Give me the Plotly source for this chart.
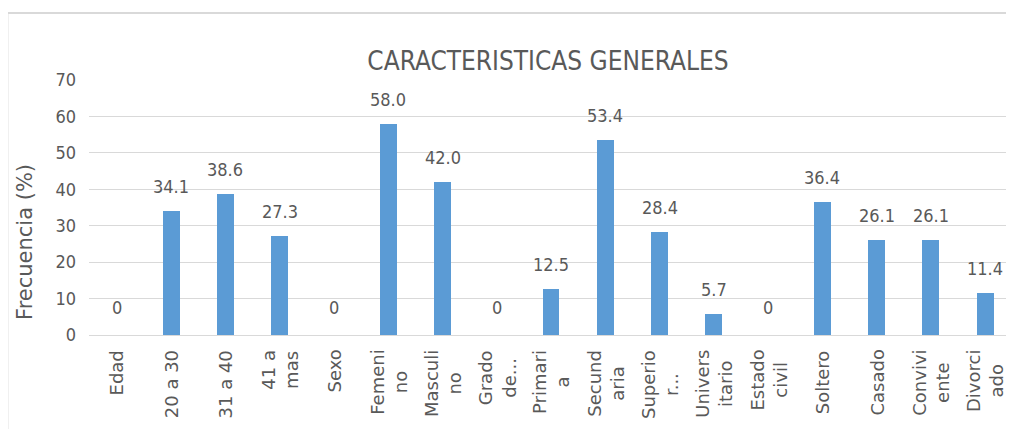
import plotly.graph_objects as go

categorias = [
    "Edad", "20 a 30", "31 a 40", "41 a<br>mas", "Sexo", "Femeni<br>no",
    "Masculi<br>no", "Grado<br>de...", "Primari<br>a", "Secund<br>aria",
    "Superio<br>r...", "Univers<br>itario", "Estado<br>civil", "Soltero",
    "Casado", "Convivi<br>ente", "Divorci<br>ado",
]
frecuencia = [0, 34.1, 38.6, 27.3, 0, 58.0, 42.0, 0, 12.5, 53.4, 28.4, 5.7, 0, 36.4, 26.1, 26.1, 11.4]
etiquetas = ["0", "34.1", "38.6", "27.3", "0", "58.0", "42.0", "0", "12.5", "53.4",
             "28.4", "5.7", "0", "36.4", "26.1", "26.1", "11.4"]
ticks_y = [0, 10, 20, 30, 40, 50, 60, 70]

GRIS = "#595959"
NARROW = "DejaVu Sans Condensed, Liberation Sans Narrow, sans-serif"
SANS = "DejaVu Sans, Open Sans, sans-serif"

x_idx = list(range(len(categorias)))

fig = go.Figure()
fig.add_trace(
    go.Bar(
        x=x_idx,
        y=frecuencia,
        width=0.313,
        marker={"color": "#5b9bd5", "line": {"width": 0}},
        showlegend=False,
        hoverinfo="skip",
    )
)

annotations = []
# etiquetas de datos sobre cada barra
for xi, v, t in zip(x_idx, frecuencia, etiquetas):
    annotations.append(dict(
        x=xi, y=v, xref="x", yref="y", text=t, showarrow=False,
        yanchor="bottom", yshift=12 if v > 0 else 15,
        font={"family": NARROW, "size": 18, "color": GRIS},
    ))
# etiquetas de categoria giradas
for xi, c in zip(x_idx, categorias):
    annotations.append(dict(
        x=xi, y=0, xref="x", yref="paper", text=c, showarrow=False,
        textangle=-90, yanchor="top", align="center", yshift=-13,
        font={"family": SANS, "size": 18, "color": GRIS},
    ))
# titulo del eje y
annotations.append(dict(
    x=0, y=0.365, xref="paper", yref="paper", text="Frecuencia (%)",
    showarrow=False, textangle=-90, xanchor="center", yanchor="middle", xshift=-64,
    font={"family": SANS, "size": 21, "color": GRIS},
))

# la pagina desplaza el grafico 8 px (margen del body): se compensa en los margenes
fig.update_layout(
    width=1014,
    height=429,
    margin={"l": 81, "r": 16, "t": 72, "b": 102},
    paper_bgcolor="white",
    plot_bgcolor="white",
    title={
        "text": "CARACTERISTICAS GENERALES",
        "x": 540 / 1014, "xanchor": "center",
        "y": 1 - 53 / 429, "yanchor": "middle",
        "font": {"family": NARROW, "size": 26, "color": GRIS},
    },
    annotations=annotations,
    shapes=[dict(
        type="rect", xref="paper", yref="paper",
        x0=-0.089, x1=1.2, y0=-0.6, y1=1.263,
        line={"color": "#d9d9d9", "width": 2}, fillcolor="rgba(0,0,0,0)", layer="below",
    )],
    bargap=0,
)
fig.update_xaxes(
    range=[-0.516, 16.387],
    showticklabels=False,
    showgrid=False,
    zeroline=False,
    showline=False,
    fixedrange=True,
)
fig.update_yaxes(
    range=[0, 70],
    tickvals=ticks_y,
    showgrid=True,
    gridcolor="#d9d9d9",
    gridwidth=1,
    zeroline=True,
    zerolinecolor="#d9d9d9",
    zerolinewidth=1,
    ticklabelstandoff=12,
    tickfont={"family": NARROW, "size": 18, "color": GRIS},
    fixedrange=True,
)

fig.write_html("out.html", config={"displayModeBar": False})
